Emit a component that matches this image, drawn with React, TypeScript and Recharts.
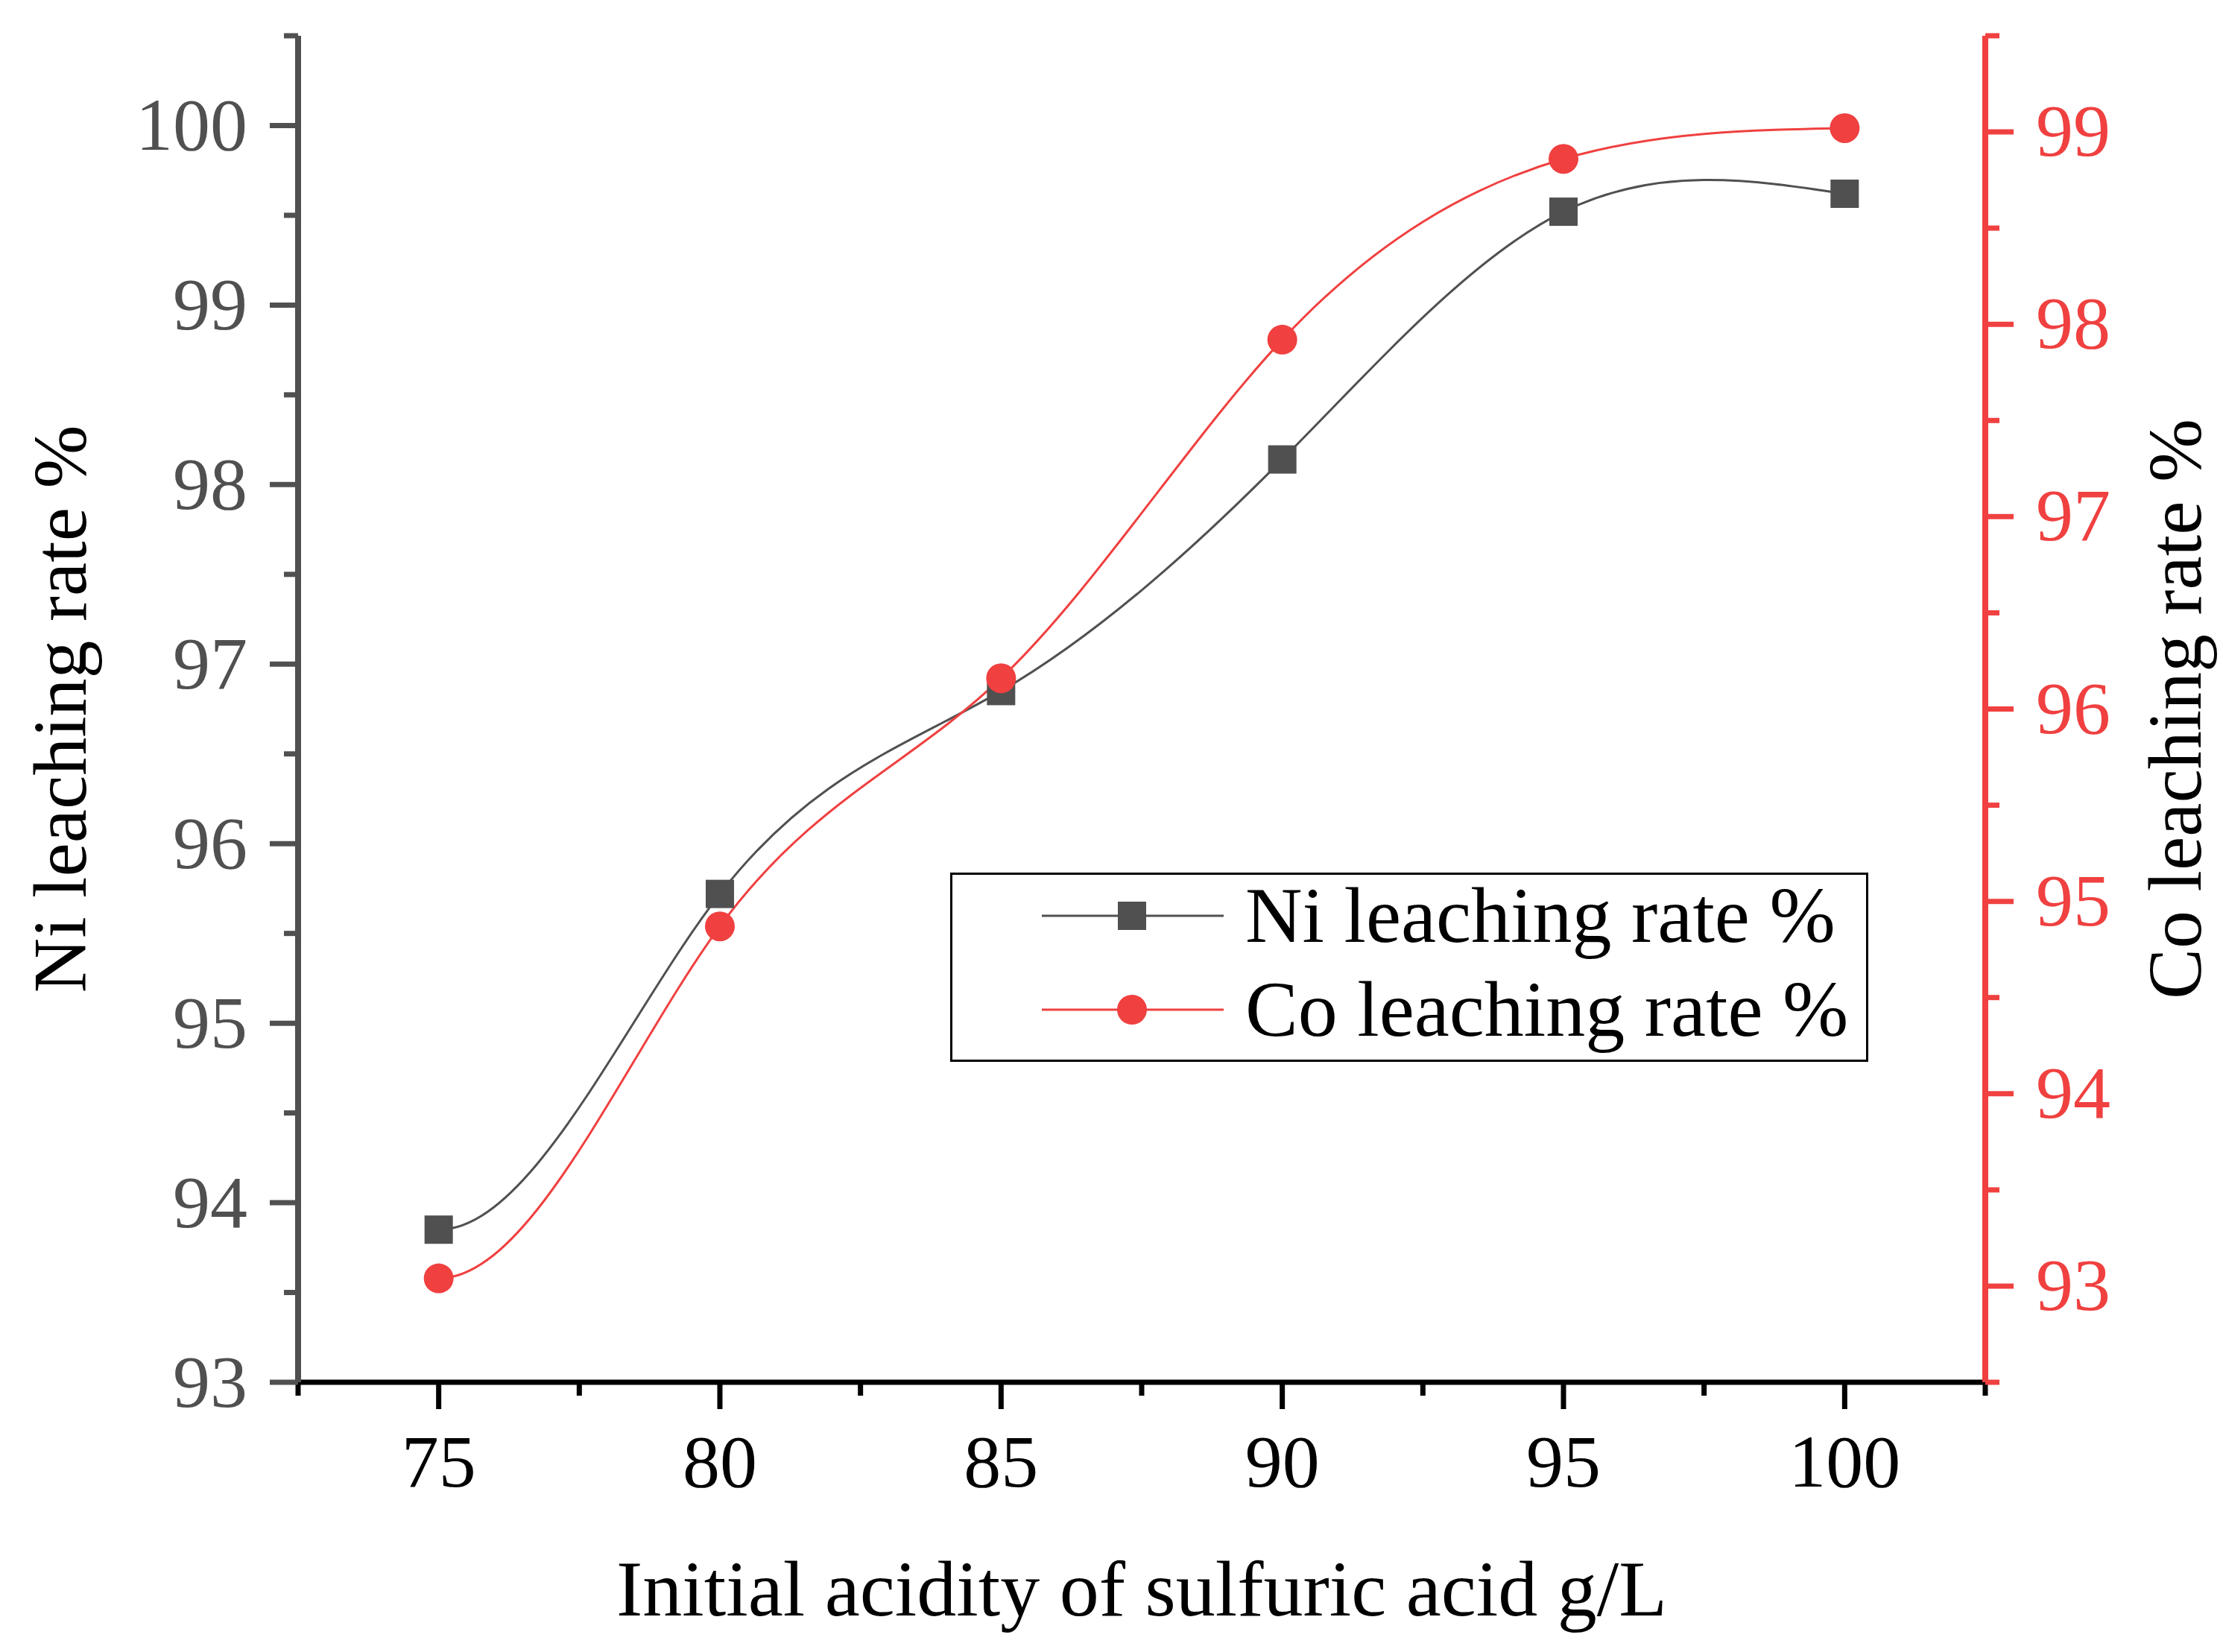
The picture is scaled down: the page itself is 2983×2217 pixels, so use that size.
import React from 'react';
import { LineChart, Line, XAxis, YAxis, Legend } from 'recharts';

// initial acidity of sulfuric acid, g/L
const acidity = [75, 80, 85, 90, 95, 100];
const niRate = [93.85, 95.72, 96.85, 98.14, 99.52, 99.62];
const coRate = [93.04, 94.87, 96.16, 97.92, 98.86, 99.02];

const xTicks = [72.5, 75, 77.5, 80, 82.5, 85, 87.5, 90, 92.5, 95, 97.5, 100, 102.5];
const niTicks = [93, 93.5, 94, 94.5, 95, 95.5, 96, 96.5, 97, 97.5, 98, 98.5, 99, 99.5, 100, 100.5];
const coTicks = [92.5, 93, 93.5, 94, 94.5, 95, 95.5, 96, 96.5, 97, 97.5, 98, 98.5, 99, 99.5];

const seriesNames = ['Ni leaching rate %', 'Co leaching rate %'];

const GREY = '#505050';
const RED = '#F04040';
const FONT = "'Liberation Serif', 'Times New Roman', serif";

const data = acidity.map((x, i) => ({ x, ni: niRate[i], co: coRate[i] }));

const isMajor = (v: number) => Number.isInteger(v) && v % 5 === 0;

// cubic spline through the points: flat start, natural end (closest to the original's spline connect)
function solve(A: number[][], b: number[]) {
  const n = b.length;
  for (let c = 0; c < n; c++) {
    let p = c;
    for (let r = c + 1; r < n; r++) if (Math.abs(A[r][c]) > Math.abs(A[p][c])) p = r;
    [A[c], A[p]] = [A[p], A[c]];
    [b[c], b[p]] = [b[p], b[c]];
    for (let r = c + 1; r < n; r++) {
      const f = A[r][c] / A[c][c];
      for (let k = c; k < n; k++) A[r][k] -= f * A[c][k];
      b[r] -= f * b[c];
    }
  }
  const x = new Array(n).fill(0);
  for (let r = n - 1; r >= 0; r--) {
    let s = b[r];
    for (let k = r + 1; k < n; k++) s -= A[r][k] * x[k];
    x[r] = s / A[r][r];
  }
  return x;
}

const splineCurve = (context: any) => {
  let xs: number[] = [];
  let ys: number[] = [];
  return {
    areaStart() {},
    areaEnd() {},
    lineStart() {
      xs = [];
      ys = [];
    },
    point(x: number, y: number) {
      xs.push(+x);
      ys.push(+y);
    },
    lineEnd() {
      const n = xs.length;
      if (n === 0) return;
      context.moveTo(xs[0], ys[0]);
      if (n < 3) {
        for (let i = 1; i < n; i++) context.lineTo(xs[i], ys[i]);
        return;
      }
      const h = xs.slice(1).map((v, i) => v - xs[i]);
      const A = Array.from({ length: n }, () => new Array(n).fill(0));
      const b = new Array(n).fill(0);
      // clamped start: zero slope
      A[0][0] = 2 * h[0];
      A[0][1] = h[0];
      b[0] = (6 * (ys[1] - ys[0])) / h[0];
      for (let i = 1; i < n - 1; i++) {
        A[i][i - 1] = h[i - 1];
        A[i][i] = 2 * (h[i - 1] + h[i]);
        A[i][i + 1] = h[i];
        b[i] = 6 * ((ys[i + 1] - ys[i]) / h[i] - (ys[i] - ys[i - 1]) / h[i - 1]);
      }
      // natural end
      A[n - 1][n - 1] = 1;
      const M = solve(A, b);
      const m = xs.map((_, i) =>
        i < n - 1
          ? (ys[i + 1] - ys[i]) / h[i] - (h[i] * (2 * M[i] + M[i + 1])) / 6
          : (ys[i] - ys[i - 1]) / h[i - 1] + (h[i - 1] * (M[i - 1] + 2 * M[i])) / 6,
      );
      for (let i = 0; i < n - 1; i++) {
        const d = h[i] / 3;
        context.bezierCurveTo(
          xs[i] + d,
          ys[i] + m[i] * d,
          xs[i + 1] - d,
          ys[i + 1] - m[i + 1] * d,
          xs[i + 1],
          ys[i + 1],
        );
      }
    },
  };
};

const XTick = (props: any) => {
  const { x, y, payload } = props;
  const v = payload.value;
  const major = isMajor(v);
  return (
    <g>
      <line x1={x} x2={x} y1={y} y2={y + (major ? 36 : 18)} stroke="#000" strokeWidth={7} />
      {major && (
        <text x={x} y={y + 140} textAnchor="middle" fill="#000" fontSize={100} fontFamily={FONT}>
          {v}
        </text>
      )}
    </g>
  );
};

const LeftTick = (props: any) => {
  const { x, y, payload } = props;
  const v = payload.value;
  const major = Number.isInteger(v);
  return (
    <g>
      <line x1={x} x2={x - (major ? 38 : 19)} y1={y} y2={y} stroke={GREY} strokeWidth={7} />
      {major && (
        <text x={x - 68} y={y + 33} textAnchor="end" fill={GREY} fontSize={100} fontFamily={FONT}>
          {v}
        </text>
      )}
    </g>
  );
};

const RightTick = (props: any) => {
  const { x, y, payload } = props;
  const v = payload.value;
  const major = Number.isInteger(v);
  return (
    <g>
      <line x1={x} x2={x + (major ? 38 : 19)} y1={y} y2={y} stroke={RED} strokeWidth={7} />
      {major && (
        <text x={x + 68} y={y + 32} textAnchor="start" fill={RED} fontSize={100} fontFamily={FONT}>
          {v}
        </text>
      )}
    </g>
  );
};

const SquareDot = (props: any) => {
  const { cx, cy, index } = props;
  if (cx == null || cy == null) return <g key={index} />;
  return <rect key={index} x={cx - 19} y={cy - 19} width={38} height={38} fill={GREY} />;
};

const LeftTitle = (props: any) => {
  const { viewBox } = props;
  const x = viewBox.x + 15;
  const y = viewBox.y + viewBox.height / 2;
  return (
    <text x={x} y={y} transform={`rotate(-90 ${x} ${y})`} textAnchor="middle" fill="#000" fontSize={102} fontFamily={FONT}>
      {seriesNames[0]}
    </text>
  );
};

const RightTitle = (props: any) => {
  const { viewBox } = props;
  const x = viewBox.x + 289;
  const y = viewBox.y + viewBox.height / 2;
  return (
    <text x={x} y={y} transform={`rotate(-90 ${x} ${y})`} textAnchor="middle" fill="#000" fontSize={102} fontFamily={FONT}>
      {seriesNames[1]}
    </text>
  );
};

const BottomTitle = (props: any) => {
  const { viewBox } = props;
  const x = viewBox.x + viewBox.width / 2;
  const y = viewBox.y + 313;
  return (
    <text x={x} y={y} textAnchor="middle" fill="#000" fontSize={106} fontFamily={FONT}>
      Initial acidity of sulfuric acid g/L
    </text>
  );
};

const LegendBox = () => {
  const rows = [
    { name: seriesNames[0], color: GREY, shape: 'square' },
    { name: seriesNames[1], color: RED, shape: 'circle' },
  ];
  return (
    <svg width={1232} height={254} style={{ display: 'block' }}>
      <rect x={1.5} y={1.5} width={1229} height={251} fill="#fff" stroke="#000" strokeWidth={3} />
      {rows.map((r, i) => {
        const cy = 58 + i * 126;
        return (
          <g key={r.name}>
            <line x1={123} x2={367} y1={cy} y2={cy} stroke={r.color} strokeWidth={3} />
            {r.shape === 'square' ? (
              <rect x={244 - 19} y={cy - 19} width={38} height={38} fill={r.color} />
            ) : (
              <circle cx={244} cy={cy} r={20} fill={r.color} />
            )}
            <text x={396} y={cy + 35} fill="#000" fontSize={106} fontFamily={FONT}>
              {r.name}
            </text>
          </g>
        );
      })}
    </svg>
  );
};

export default function App() {
  return (
    <div style={{ width: 2983, height: 2217, background: '#fff' }}>
      <style>{'body{margin:0}'}</style>
      <LineChart
        width={2983}
        height={2217}
        data={data}
        margin={{ top: 48, right: 19, bottom: 62, left: 100 }}
      >
        <XAxis
          dataKey="x"
          type="number"
          domain={[72.5, 102.5]}
          ticks={xTicks}
          interval={0}
          height={300}
          tickSize={0}
          tickMargin={0}
          tickLine={false}
          tick={<XTick />}
          axisLine={{ stroke: '#000', strokeWidth: 7 }}
          label={<BottomTitle />}
        />
        <XAxis
          xAxisId="top"
          orientation="top"
          dataKey="x"
          type="number"
          domain={[72.5, 102.5]}
          height={0}
          tick={false}
          tickLine={false}
          axisLine={{ stroke: '#000', strokeWidth: 7 }}
        />
        <YAxis
          yAxisId="left"
          type="number"
          domain={[93, 100.5]}
          ticks={niTicks}
          interval={0}
          width={300}
          tickSize={0}
          tickMargin={0}
          tickLine={false}
          tick={<LeftTick />}
          axisLine={{ stroke: GREY, strokeWidth: 8 }}
          allowDataOverflow
          label={<LeftTitle />}
        />
        <YAxis
          yAxisId="right"
          orientation="right"
          type="number"
          domain={[92.5, 99.5]}
          ticks={coTicks}
          interval={0}
          width={300}
          tickSize={0}
          tickMargin={0}
          tickLine={false}
          tick={<RightTick />}
          axisLine={{ stroke: RED, strokeWidth: 8 }}
          allowDataOverflow
          label={<RightTitle />}
        />
        <Line
          yAxisId="left"
          dataKey="ni"
          name={seriesNames[0]}
          type={splineCurve as any}
          stroke={GREY}
          strokeWidth={3}
          dot={<SquareDot />}
          activeDot={false}
          isAnimationActive={false}
        />
        <Line
          yAxisId="right"
          dataKey="co"
          name={seriesNames[1]}
          type={splineCurve as any}
          stroke={RED}
          strokeWidth={3}
          dot={{ r: 20, fill: RED, stroke: 'none' }}
          activeDot={false}
          isAnimationActive={false}
        />
        <Legend
          layout="vertical"
          align="center"
          verticalAlign="middle"
          content={<LegendBox />}
          wrapperStyle={{ position: 'absolute', left: 1275, top: 1171, width: 1232, height: 254 }}
        />
      </LineChart>
    </div>
  );
}
